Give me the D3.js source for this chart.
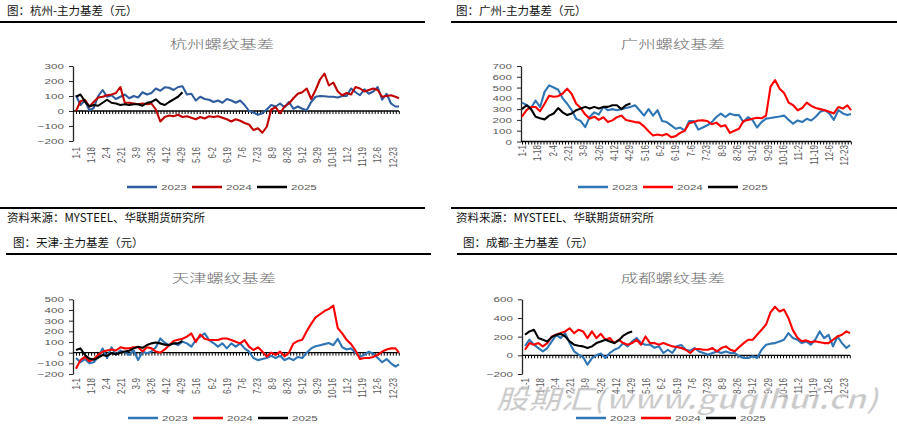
<!DOCTYPE html>
<html>
<head>
<meta charset="utf-8">
<script src="https://cdn.jsdelivr.net/npm/d3@7"></script>
<style>
body { margin: 0; background: #fff; }
svg { display: block; }
.wr { transform-box: fill-box; transform-origin: 100% 50%; transform: scaleX(1.45); }
.wc { transform-box: fill-box; transform-origin: 50% 50%; transform: scaleX(1.45); }
.wl { transform-box: fill-box; transform-origin: 0 50%; transform: scaleX(1.45); }
</style>
</head>
<body>
<svg id="chart" width="897" height="430"></svg>
<script>
// x axis: calendar days, one value every 5 days (last one on day 364)
let tickLabels = ["1-1","1-18","2-4","2-21","3-9","3-26","4-12","4-29","5-16","6-2","6-19",
  "7-6","7-23","8-9","8-26","9-12","9-29","10-16","11-2","11-19","12-6","12-23"];
let years = ["2023", "2024", "2025"];

// 杭州
let hz2023 = [105,40,70,5,20,100,140,95,105,80,
  95,110,85,100,90,125,110,120,150,135,
  158,155,140,160,165,110,115,70,95,80,
  75,60,70,55,80,70,55,70,40,0,
  -10,-25,-15,10,40,30,50,25,60,15,
  30,15,5,60,95,100,98,95,95,90,
  100,100,150,125,105,145,115,130,160,75,
  115,50,30,30];
let hz2024 = [0,65,75,30,60,90,95,105,110,120,
  160,55,55,50,45,50,45,50,10,-70,
  -40,-30,-35,-25,-40,-35,-45,-55,-40,-50,
  -35,-40,-35,-45,-55,-70,-55,-65,-80,-90,
  -127,-115,-145,-105,10,25,-15,30,50,85,
  115,125,150,80,140,210,250,170,190,130,
  105,120,110,160,150,130,140,150,140,95,
  100,105,95,85];
let hz2025 = [95,110,65,30,40,35,55,75,55,50,40,45,40,45,45,35,55,60,78,50,40,60,78,95,125];

// 广州
let gz2023 = [360,340,310,380,320,460,520,500,480,400,
  350,290,210,190,134,230,270,250,320,290,
  300,290,300,310,320,336,290,240,300,240,
  290,190,180,150,118,130,100,190,190,110,
  130,150,180,227,258,227,258,245,245,180,
  225,200,130,180,212,218,225,232,240,200,
  165,195,180,210,195,230,275,290,260,200,
  290,260,245,255];
let gz2024 = [230,290,320,320,280,350,425,415,420,445,
  490,440,350,310,250,212,230,200,225,180,
  196,225,240,200,190,180,175,140,95,56,
  65,56,70,40,50,80,100,170,180,195,
  196,190,160,175,140,150,80,100,118,190,
  200,210,220,215,240,508,570,490,450,360,
  336,290,310,360,330,310,300,290,275,260,
  320,305,335,290];
let gz2025 = [300,336,300,230,215,205,240,260,310,270,245,260,290,305,321,305,321,305,321,321,336,336,300,336,352];

// 天津
let tj2023 = [-50,-90,-60,-100,-90,-40,40,-50,50,-20,
  20,0,-20,20,-70,10,-5,10,50,133,
  93,71,87,71,102,87,56,118,149,180,
  118,90,56,87,40,87,56,87,40,10,
  -50,-70,-60,-50,-30,-50,-30,-70,-50,-70,
  -40,-50,0,40,60,70,80,90,70,130,
  50,30,40,0,-40,-20,10,-10,-50,-90,
  -60,-100,-130,-110];
let tj2024 = [-150,-70,-40,-80,-60,-20,10,20,30,20,
  50,40,40,50,50,10,50,40,10,0,
  30,70,110,120,130,150,180,100,170,130,
  118,118,118,133,133,118,103,87,118,56,
  25,50,10,-37,0,-20,10,-35,0,85,
  110,120,200,270,330,360,390,410,440,230,
  180,120,80,20,-60,-50,-50,-40,-20,10,
  30,40,40,0];
let tj2025 = [25,40,-22,-56,-65,-47,-22,-31,-5,-15,0,10,18,40,56,45,71,87,95,87,75,71,87,87,110];

// 成都
let cd2023 = [100,167,114,78,43,78,150,220,185,238,
  131,43,7,-18,-100,-30,0,20,-28,25,
  60,80,131,96,149,185,130,114,114,80,
  96,25,60,25,96,110,60,50,78,42,
  25,7,25,42,25,42,25,25,-10,-28,
  -28,-10,-28,60,114,125,131,149,167,238,
  185,167,131,149,114,167,256,185,220,96,
  202,131,78,110];
let cd2024 = [60,131,114,131,96,131,202,220,238,256,
  290,238,274,256,185,256,185,230,167,185,
  131,167,131,114,131,167,114,202,131,131,
  114,131,114,96,89,78,60,25,67,67,
  60,60,78,43,78,96,60,43,89,131,
  167,167,220,274,330,460,520,470,490,400,
  270,190,150,160,140,150,140,131,131,167,
  202,220,256,238];
let cd2025 = [220,256,274,185,167,149,195,220,230,202,149,114,103,96,78,96,131,149,167,149,131,160,210,238,256];

function dayOf(i) { return Math.min(i * 5, 364); }

let svg = d3.select("#chart");
let cjk = "'Noto Sans CJK SC', 'Noto Sans', sans-serif";
let latin = "'Liberation Sans', Arial, sans-serif";
let grey = "#595959";

// header rules
[[22, 0, 425], [22, 451, 897], [208, 0, 425], [208, 451, 897], [254, 6, 431], [254, 457, 897]].forEach(r => {
  svg.append("line").attr("x1", r[1]).attr("x2", r[2]).attr("y1", r[0]).attr("y2", r[0])
    .attr("stroke", "#000").attr("stroke-width", 2);
});

let headers = [
  ["图：杭州-主力基差（元）", 7, 15], ["图：广州-主力基差（元）", 456, 15],
  ["资料来源：MYSTEEL、华联期货研究所", 7, 222], ["资料来源：MYSTEEL、华联期货研究所", 456, 222],
  ["图：天津-主力基差（元）", 13, 247], ["图：成都-主力基差（元）", 463, 247]
];
headers.forEach(h => {
  svg.append("text").attr("x", h[1]).attr("y", h[2]).text(h[0])
    .style("font-family", cjk).style("font-size", "11.5px").attr("fill", "#111");
});

let panels = [
  { title: "杭州螺纹基差", tx: 222, ty: 49, axisX: 73, xr: [76, 399], yd: [-200, 300], yr: [141, 66],
    yt: d3.range(-200, 301, 100), labelTop: 147, colors: ["#2e5c9e", "#c00000", "#000"],
    data: [hz2023, hz2024, hz2025], lx: 127, ly: 187 },
  { title: "广州螺纹基差", tx: 673, ty: 49, axisX: 521, xr: [522, 851], yd: [0, 700], yr: [141.5, 66],
    yt: d3.range(0, 701, 100), labelTop: 145, colors: ["#2e75b6", "#ff0000", "#000"],
    data: [gz2023, gz2024, gz2025], lx: 578, ly: 187 },
  { title: "天津螺纹基差", tx: 224, ty: 283, axisX: 73, xr: [76, 399], yd: [-200, 500], yr: [374, 299.3],
    yt: d3.range(-200, 501, 100), labelTop: 378, colors: ["#2e75b6", "#ff0000", "#000"],
    data: [tj2023, tj2024, tj2025], lx: 128, ly: 418 },
  { title: "成都螺纹基差", tx: 673, ty: 283, axisX: 522, xr: [525, 850], yd: [-200, 600], yr: [374, 299.3],
    yt: d3.range(-200, 601, 200), labelTop: 378, colors: ["#2e75b6", "#ff0000", "#000"],
    data: [cd2023, cd2024, cd2025], lx: 576, ly: 418 }
];

panels.forEach(p => {
  let x = d3.scaleLinear().domain([0, 364]).range(p.xr);
  let y = d3.scaleLinear().domain(p.yd).range(p.yr);

  svg.append("text").attr("class", "wc").attr("x", p.tx).attr("y", p.ty)
    .attr("text-anchor", "middle").text(p.title)
    .style("font-family", cjk).style("font-size", "12px").style("font-weight", 300).attr("fill", "#6b6b6b");

  // y axis
  let ya = svg.append("g").attr("transform", `translate(${p.axisX},0)`)
    .call(d3.axisLeft(y).tickValues(p.yt).tickSize(4).tickSizeOuter(0).tickPadding(5));
  ya.select(".domain").attr("stroke", "#262626").attr("stroke-width", 1.3);
  ya.selectAll(".tick line").attr("stroke", "#262626");
  ya.selectAll(".tick text").attr("class", "wr").attr("fill", grey)
    .style("font-family", latin).style("font-size", "8px");

  // x axis with minor ticks
  let x0 = y(0);
  let minor = d3.range(0, 365, 17 / 5);
  let xa = svg.append("g").attr("transform", `translate(0,${x0})`)
    .call(d3.axisBottom(x).tickValues(minor).tickSize(3).tickSizeOuter(0).tickFormat(""));
  xa.select(".domain").remove();
  xa.selectAll(".tick line").attr("stroke", "#000");
  svg.append("line").attr("x1", p.axisX).attr("x2", p.xr[1]).attr("y1", x0).attr("y2", x0)
    .attr("stroke", "#000").attr("stroke-width", 1.3);

  tickLabels.forEach((t, i) => {
    svg.append("text")
      .attr("transform", `translate(${x(i * 17)},${p.labelTop}) scale(1.35,1) rotate(-90)`)
      .attr("text-anchor", "end").attr("dy", "0.35em").text(t)
      .style("font-family", latin).style("font-size", "8px").attr("fill", grey);
  });

  let line = d3.line().x((v, i) => x(dayOf(i))).y(v => y(v));
  p.data.forEach((s, k) => {
    svg.append("path").datum(s).attr("d", line).attr("fill", "none")
      .attr("stroke", p.colors[k]).attr("stroke-width", 2.1).attr("stroke-linejoin", "round");
  });

  years.forEach((yr, k) => {
    let lx = p.lx + k * 65;
    svg.append("line").attr("x1", lx).attr("x2", lx + 30).attr("y1", p.ly).attr("y2", p.ly)
      .attr("stroke", p.colors[k]).attr("stroke-width", 2.5);
    svg.append("text").attr("class", "wl").attr("x", lx + 34).attr("y", p.ly + 3).text(yr)
      .style("font-family", latin).style("font-size", "8px").attr("fill", grey);
  });
});

// watermark
svg.append("text").attr("x", 496).attr("y", 409).text("股期汇(www.guqihui.cn)")
  .attr("textLength", 382).attr("lengthAdjust", "spacingAndGlyphs")
  .style("font-family", cjk).style("font-size", "27px").style("font-weight", "bold")
  .style("font-style", "italic").attr("fill", "#b4b4b4").attr("opacity", 0.7)
  .attr("stroke", "#fff").attr("stroke-width", 0.8);
</script>
</body>
</html>
